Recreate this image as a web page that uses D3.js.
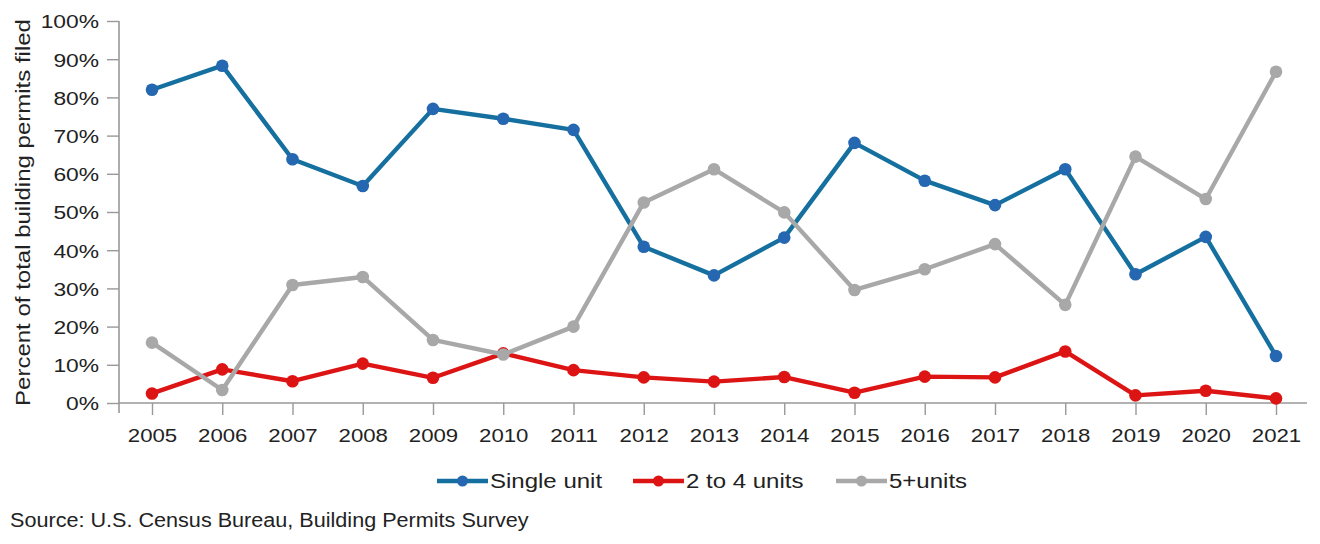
<!DOCTYPE html>
<html>
<head>
<meta charset="utf-8">
<script src="https://cdn.jsdelivr.net/npm/d3@7"></script>
<style>
  html, body { margin: 0; padding: 0; background: #fff; }
  svg { display: block; font-family: "Liberation Sans", Arial, Helvetica, sans-serif; }
</style>
</head>
<body>
<svg id="chart" width="1320" height="544"></svg>
<script>
const years = [2005, 2006, 2007, 2008, 2009, 2010, 2011, 2012, 2013, 2014, 2015, 2016, 2017, 2018, 2019, 2020, 2021];
const singleUnit = [82.0, 88.3, 63.8, 56.8, 77.0, 74.4, 71.5, 40.9, 33.4, 43.3, 68.1, 58.2, 51.8, 61.2, 33.7, 43.5, 12.3];
const twoToFour = [2.5, 8.8, 5.7, 10.3, 6.6, 13.0, 8.6, 6.7, 5.6, 6.8, 2.7, 6.9, 6.7, 13.5, 2.0, 3.2, 1.2];
const fivePlus = [15.8, 3.4, 30.9, 33.0, 16.5, 12.7, 20.0, 52.5, 61.2, 49.9, 29.6, 35.0, 41.6, 25.7, 64.5, 53.4, 86.7];
const seriesNames = ["Single unit", "2 to 4 units", "5+units"];
const yTicks = [0, 10, 20, 30, 40, 50, 60, 70, 80, 90, 100];
const yTitle = "Percent of total building permits filed";
const sourceText = "Source: U.S. Census Bureau, Building Permits Survey";

const lineColors = ["#16709f", "#dd1414", "#a8a8a8"];
const dotColors = ["#2567b0", "#dd1414", "#a8a8a8"];
const seriesData = [singleUnit, twoToFour, fivePlus];

const svg = d3.select("#chart");
const STRETCH = 1.2;
function stretch(sel, f) {
  sel.each(function () {
    const len = this.getComputedTextLength();
    d3.select(this).attr("textLength", len * f).attr("lengthAdjust", "spacingAndGlyphs");
  });
}

const x = d3.scalePoint().domain(years).range([152, 1276]);
const y = d3.scaleLinear().domain([0, 100]).range([403, 21]);

// Y axis
const yAxis = svg.append("g").attr("transform", "translate(119,0)")
  .call(d3.axisLeft(y).tickValues(yTicks).tickFormat(d => d + "%").tickSize(12).tickSizeOuter(0));
yAxis.select(".domain").remove();
yAxis.append("line").attr("x1", 0).attr("x2", 0).attr("y1", 21).attr("y2", 413)
  .attr("stroke", "#999").attr("stroke-width", 1.6);
yAxis.selectAll(".tick line").attr("stroke", "#999").attr("stroke-width", 1.4);
yAxis.selectAll(".tick text").attr("x", -20).attr("dy", "0.36em")
  .attr("fill", "#222").style("font-size", "19px").style("font-family", "Liberation Sans, Arial, sans-serif")
  .call(stretch, STRETCH);

// X axis
const xAxis = svg.append("g").attr("transform", "translate(0,403)")
  .call(d3.axisBottom(x).tickSize(12).tickSizeOuter(0));
xAxis.select(".domain").remove();
xAxis.append("line").attr("x1", 119).attr("x2", 1307).attr("y1", 0).attr("y2", 0)
  .attr("stroke", "#999").attr("stroke-width", 1.6);
xAxis.selectAll(".tick line").attr("stroke", "#999").attr("stroke-width", 1.4);
xAxis.selectAll(".tick text").attr("y", 39).attr("dy", 0)
  .attr("fill", "#222").style("font-size", "18.5px").style("font-family", "Liberation Sans, Arial, sans-serif")
  .call(stretch, STRETCH);

// Y title
svg.append("text")
  .attr("transform", "translate(30,212.5) rotate(-90)")
  .attr("text-anchor", "middle")
  .attr("fill", "#222")
  .style("font-size", "20px")
  .text(yTitle)
  .call(stretch, STRETCH);

// Lines
const line = d3.line().x((d, i) => x(years[i])).y(d => y(d));
[0, 1, 2].forEach(s => {
  const g = svg.append("g");
  g.append("path").datum(seriesData[s]).attr("d", line)
    .attr("fill", "none").attr("stroke", lineColors[s]).attr("stroke-width", 4.4)
    .attr("stroke-linejoin", "round");
  g.selectAll("circle").data(seriesData[s]).join("circle")
    .attr("cx", (d, i) => x(years[i])).attr("cy", d => y(d)).attr("r", 6.3)
    .attr("fill", dotColors[s]);
});

// Legend
const legendX = [437, 633, 836];
const legend = svg.append("g");
seriesNames.forEach((name, i) => {
  const g = legend.append("g").attr("transform", `translate(${legendX[i]},481)`);
  g.append("line").attr("x1", 0).attr("x2", 51).attr("y1", 0).attr("y2", 0)
    .attr("stroke", lineColors[i]).attr("stroke-width", 4.4);
  g.append("circle").attr("cx", 25.5).attr("cy", 0).attr("r", 5.5).attr("fill", dotColors[i]);
  g.append("text").attr("x", 53).attr("y", 0).attr("dy", "0.36em")
    .attr("fill", "#222").style("font-size", "20px").text(name)
    .call(stretch, STRETCH);
});

// Source
svg.append("text").attr("x", 10).attr("y", 527)
  .attr("fill", "#222").style("font-size", "20px")
  .text(sourceText)
  .call(stretch, 1.08);
</script>
</body>
</html>
